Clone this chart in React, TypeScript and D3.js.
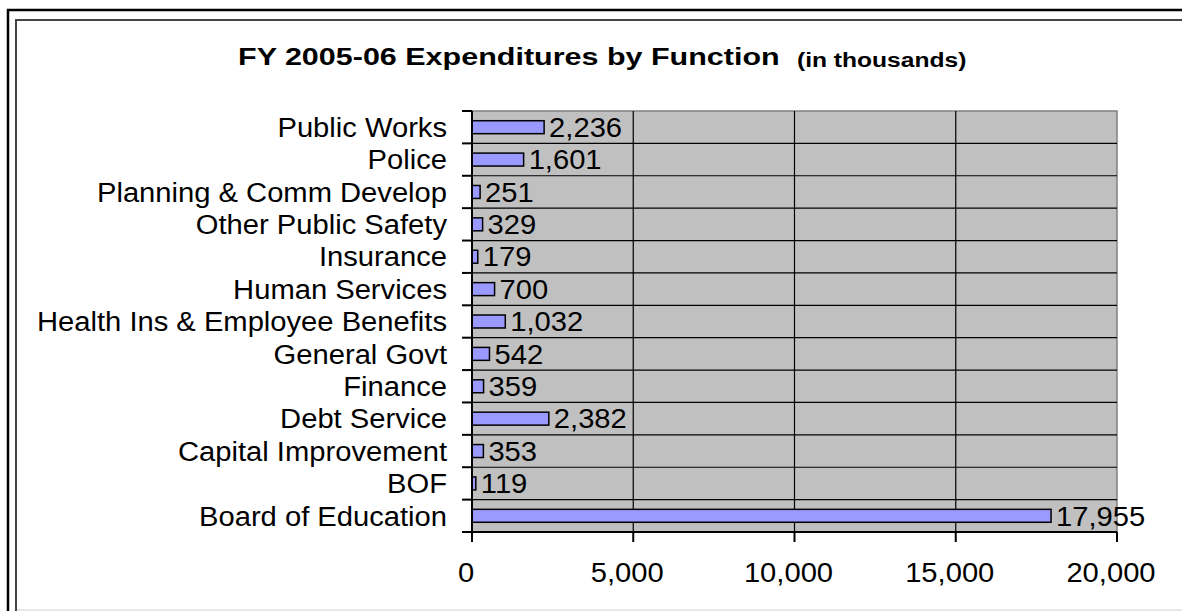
import React from "react";
import * as d3 from "d3";

const categories = [
  "Public Works",
  "Police",
  "Planning & Comm Develop",
  "Other Public Safety",
  "Insurance",
  "Human Services",
  "Health Ins & Employee Benefits",
  "General Govt",
  "Finance",
  "Debt Service",
  "Capital Improvement",
  "BOF",
  "Board of Education",
];
const values = [2236, 1601, 251, 329, 179, 700, 1032, 542, 359, 2382, 353, 119, 17955];
const xTicks = [0, 5000, 10000, 15000, 20000];

const W = 1182;
const H = 611;
const plot = { left: 472, right: 1117, top: 111, bottom: 532 };
const FONT = "'Liberation Sans', Arial, Helvetica, sans-serif";
const SX = 1.08;

function T(props: {
  x: number;
  y: number;
  sx?: number;
  size: number;
  anchor?: string;
  bold?: boolean;
  dy?: string;
  children: React.ReactNode;
}) {
  return (
    <text
      transform={`translate(${props.x},${props.y}) scale(${props.sx ?? SX},1)`}
      dy={props.dy}
      fontSize={props.size}
      fontWeight={props.bold ? "bold" : "normal"}
      textAnchor={props.anchor ?? "start"}
      fill="#000"
    >
      {props.children}
    </text>
  );
}

export default function App() {
  const x = d3.scaleLinear().domain([0, 20000]).range([plot.left, plot.right]);
  const band = d3
    .scaleBand<string>()
    .domain(categories)
    .range([plot.top, plot.bottom])
    .paddingInner(0)
    .paddingOuter(0);
  const step = band.step();
  const barH = step * 0.4;
  const fmt = d3.format(",");
  const boundaries = d3.range(categories.length + 1).map((i) => plot.top + i * step);

  return (
    <svg
      width={W}
      height={H}
      style={{ position: "absolute", left: 0, top: 0, background: "#fff" }}
      fontFamily={FONT}
    >
      {/* frames */}
      <rect x={8} y={10} width={W + 20} height={H + 20} fill="none" stroke="#000" strokeWidth={2.5} />
      <rect x={16} y={20} width={W + 20} height={H + 20} fill="none" stroke="#444" strokeWidth={2} />
      <line x1={17} x2={W} y1={610} y2={610} stroke="#d0d0d0" strokeWidth={1} />

      {/* title */}
      <T x={238} y={64.5} size={24.5} sx={1.245} bold>
        FY 2005-06 Expenditures by Function
      </T>
      <T x={797} y={67} size={20} sx={1.23} bold>
        (in thousands)
      </T>

      {/* plot area */}
      <rect
        x={plot.left}
        y={plot.top}
        width={plot.right - plot.left}
        height={plot.bottom - plot.top}
        fill="#c0c0c0"
        stroke="#808080"
        strokeWidth={1.5}
      />
      {xTicks.slice(1, -1).map((t) => (
        <line key={t} x1={x(t)} x2={x(t)} y1={plot.top} y2={plot.bottom} stroke="#000" strokeWidth={1.2} />
      ))}
      {boundaries.slice(1, -1).map((b, i) => (
        <line key={i} x1={plot.left} x2={plot.right} y1={b} y2={b} stroke="#000" strokeWidth={1.2} />
      ))}

      {/* bars */}
      {categories.map((c, i) => {
        const cy = (band(c) as number) + step / 2;
        return (
          <g key={c}>
            <rect
              x={x(0)}
              y={cy - barH / 2}
              width={x(values[i]) - x(0)}
              height={barH}
              fill="#9999ff"
              stroke="#000"
              strokeWidth={1.5}
            />
            <T x={x(values[i]) + 5} y={cy} dy="0.36em" size={27}>
              {fmt(values[i])}
            </T>
            <T x={447} y={cy} dy="0.36em" size={27} anchor="end">
              {c}
            </T>
          </g>
        );
      })}

      {/* axes */}
      <line x1={plot.left} x2={plot.left} y1={plot.top} y2={plot.bottom + 10} stroke="#000" strokeWidth={2} />
      <line x1={plot.left} x2={plot.right} y1={plot.bottom} y2={plot.bottom} stroke="#000" strokeWidth={2} />
      {boundaries.map((b, i) => (
        <line key={i} x1={plot.left - 10} x2={plot.left} y1={b} y2={b} stroke="#000" strokeWidth={2} />
      ))}
      {xTicks.map((t) => (
        <g key={t}>
          <line x1={x(t)} x2={x(t)} y1={plot.bottom} y2={plot.bottom + 10} stroke="#000" strokeWidth={2} />
          <T x={x(t) - 6} y={572} dy="0.36em" size={27} anchor="middle">
            {fmt(t)}
          </T>
        </g>
      ))}
    </svg>
  );
}
